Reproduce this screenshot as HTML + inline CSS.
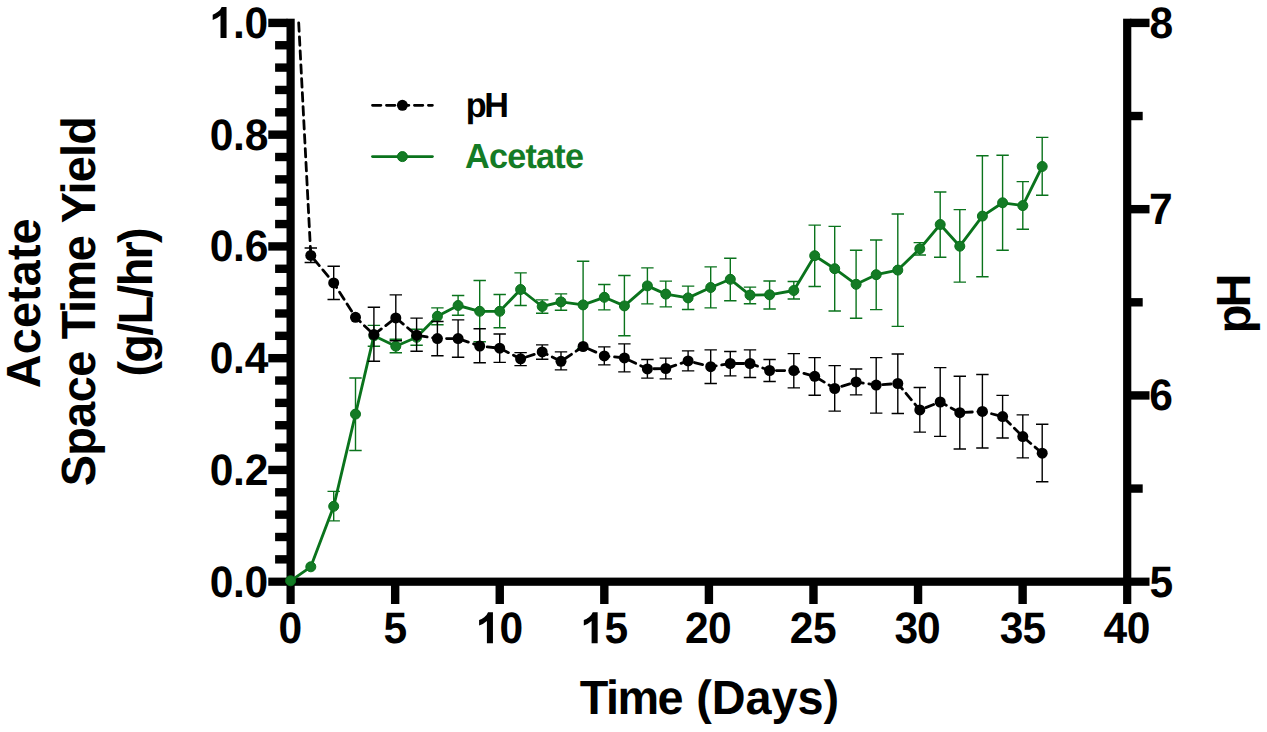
<!DOCTYPE html>
<html lang="en">
<head>
<meta charset="utf-8">
<title>Acetate Space Time Yield and pH vs Time</title>
<style>
html,body{margin:0;padding:0;background:#fff;}
body{width:1267px;height:732px;overflow:hidden;font-family:"Liberation Sans",sans-serif;}
svg{display:block;}
svg text{font-family:"Liberation Sans",sans-serif;font-weight:bold;text-rendering:geometricPrecision;}
</style>
</head>
<body>
<svg width="1267" height="732" viewBox="0 0 1267 732" role="img" aria-label="Acetate space time yield and pH versus time in days">
<rect x="0" y="0" width="1267" height="732" fill="#ffffff"/>
<g fill="#000" shape-rendering="geometricPrecision">
<rect x="286.5" y="18.7" width="8.2" height="585.3"/>
<rect x="1123.1" y="18.7" width="8.2" height="585.3"/>
<rect x="268.3" y="577.6" width="881.2" height="8.2"/>
<rect x="275.1" y="555.15" width="12.4" height="8.4"/>
<rect x="275.1" y="532.8" width="12.4" height="8.4"/>
<rect x="275.1" y="510.44" width="12.4" height="8.4"/>
<rect x="275.1" y="488.09" width="12.4" height="8.4"/>
<rect x="268.3" y="465.74" width="19.2" height="8.4"/>
<rect x="275.1" y="443.39" width="12.4" height="8.4"/>
<rect x="275.1" y="421.04" width="12.4" height="8.4"/>
<rect x="275.1" y="398.68" width="12.4" height="8.4"/>
<rect x="275.1" y="376.33" width="12.4" height="8.4"/>
<rect x="268.3" y="353.98" width="19.2" height="8.4"/>
<rect x="275.1" y="331.63" width="12.4" height="8.4"/>
<rect x="275.1" y="309.28" width="12.4" height="8.4"/>
<rect x="275.1" y="286.92" width="12.4" height="8.4"/>
<rect x="275.1" y="264.57" width="12.4" height="8.4"/>
<rect x="268.3" y="242.22" width="19.2" height="8.4"/>
<rect x="275.1" y="219.87" width="12.4" height="8.4"/>
<rect x="275.1" y="197.52" width="12.4" height="8.4"/>
<rect x="275.1" y="175.16" width="12.4" height="8.4"/>
<rect x="275.1" y="152.81" width="12.4" height="8.4"/>
<rect x="268.3" y="130.46" width="19.2" height="8.4"/>
<rect x="275.1" y="108.11" width="12.4" height="8.4"/>
<rect x="275.1" y="85.76" width="12.4" height="8.4"/>
<rect x="275.1" y="63.4" width="12.4" height="8.4"/>
<rect x="275.1" y="41.05" width="12.4" height="8.4"/>
<rect x="268.3" y="18.7" width="19.2" height="8.4"/>
<rect x="1130.3" y="484.37" width="12.4" height="8.4"/>
<rect x="1130.3" y="391.23" width="19.2" height="8.4"/>
<rect x="1130.3" y="298.1" width="12.4" height="8.4"/>
<rect x="1130.3" y="204.97" width="19.2" height="8.4"/>
<rect x="1130.3" y="111.83" width="12.4" height="8.4"/>
<rect x="1130.3" y="18.7" width="19.2" height="8.4"/>
<rect x="390.98" y="581.7" width="8.4" height="22.3"/>
<rect x="495.55" y="581.7" width="8.4" height="22.3"/>
<rect x="600.12" y="581.7" width="8.4" height="22.3"/>
<rect x="704.7" y="581.7" width="8.4" height="22.3"/>
<rect x="809.27" y="581.7" width="8.4" height="22.3"/>
<rect x="913.85" y="581.7" width="8.4" height="22.3"/>
<rect x="1018.42" y="581.7" width="8.4" height="22.3"/>
</g>
<g font-size="44" fill="#000">
<text transform="scale(0.9670 1)" x="216.87 240.96 252.86" y="596.7">0.0</text>
<text transform="scale(0.9670 1)" x="216.87 240.96 253.08" y="484.94">0.2</text>
<text transform="scale(0.9670 1)" x="216.87 240.96 253.01" y="373.18">0.4</text>
<text transform="scale(0.9670 1)" x="216.87 240.96 252.99" y="261.42">0.6</text>
<text transform="scale(0.9670 1)" x="216.87 240.96 253.21" y="149.66">0.8</text>
<path transform="translate(209.22 37.9) scale(0.02150 0.02106)" d="M806 0H525V-1059Q371 -915 162 -846V-1101Q272 -1137 401 -1237.5Q530 -1338 578 -1472H806Z"/><text transform="scale(0.9670 1)" x="240.96 252.86" y="37.9">.0</text>
<text transform="scale(0.9670 1)" x="1188.72" y="596.7">5</text>
<text transform="scale(0.9670 1)" x="1188.46" y="410.43">6</text>
<text transform="scale(0.9670 1)" x="1188.18" y="224.17">7</text>
<text transform="scale(0.9670 1)" x="1188.68" y="37.9">8</text>
<text transform="scale(0.9670 1)" x="287.92" y="643.2">0</text>
<text transform="scale(0.9670 1)" x="396.47" y="643.2">5</text>
<path transform="translate(475.62 643.2) scale(0.02150 0.02106)" d="M806 0H525V-1059Q371 -915 162 -846V-1101Q272 -1137 401 -1237.5Q530 -1338 578 -1472H806Z"/><text transform="scale(0.9670 1)" x="516.67" y="643.2">0</text>
<path transform="translate(580.32 643.2) scale(0.02150 0.02106)" d="M806 0H525V-1059Q371 -915 162 -846V-1101Q272 -1137 401 -1237.5Q530 -1338 578 -1472H806Z"/><text transform="scale(0.9670 1)" x="625.12" y="643.2">5</text>
<text transform="scale(0.9670 1)" x="708.51 732.28" y="643.2">20</text>
<text transform="scale(0.9670 1)" x="816.68 840.84" y="643.2">25</text>
<text transform="scale(0.9670 1)" x="925.05 948.31" y="643.2">30</text>
<text transform="scale(0.9670 1)" x="1033.84 1057.49" y="643.2">35</text>
<text transform="scale(0.9670 1)" x="1141.11 1165.17" y="643.2">40</text>
</g>
<text transform="translate(630.98 713.7) scale(0.9750 1)" font-size="48" letter-spacing="-1.570" text-anchor="middle" fill="#000">Time</text>
<text transform="translate(767.63 713.7) scale(0.9750 1)" font-size="48" letter-spacing="-0.023" text-anchor="middle" fill="#000">(Days)</text>
<text transform="translate(39.7 303.23) rotate(-90) scale(0.9750 1)" font-size="48" letter-spacing="0.126" text-anchor="middle" fill="#000">Acetate</text>
<text transform="translate(95.3 418.85) rotate(-90) scale(0.9750 1)" font-size="48" letter-spacing="-0.591" text-anchor="middle" fill="#000">Space</text>
<text transform="translate(95.3 288.02) rotate(-90) scale(0.9750 1)" font-size="48" letter-spacing="-1.547" text-anchor="middle" fill="#000">Time</text>
<text transform="translate(95.3 170.16) rotate(-90) scale(0.9750 1)" font-size="48" letter-spacing="-0.803" text-anchor="middle" fill="#000">Yield</text>
<text transform="translate(151.6 302.83) rotate(-90) scale(0.9750 1)" font-size="48" letter-spacing="-1.757" text-anchor="middle" fill="#000">(g/L/hr)</text>
<text transform="translate(1250 304.99) rotate(-90) scale(0.9750 1)" font-size="48" letter-spacing="-3.026" text-anchor="middle" fill="#000">pH</text>
<g id="acetate">
<g stroke="#0a731c" stroke-width="1.4" fill="none">
<path d="M333.7 491.4V520.9M327.5 491.4H339.9M327.5 520.9H339.9M355.5 378V450.5M349.3 378H361.7M349.3 450.5H361.7M373.9 325.4V346.2M367.7 325.4H380.1M367.7 346.2H380.1M395.8 339.2V352.8M389.6 339.2H402M389.6 352.8H402M416.6 329.2V345.2M410.4 329.2H422.8M410.4 345.2H422.8M437.4 307.9V324.8M431.2 307.9H443.6M431.2 324.8H443.6M458.1 295.5V315.3M451.9 295.5H464.3M451.9 315.3H464.3M479.7 280.5V341.8M473.5 280.5H485.9M473.5 341.8H485.9M499.7 294.5V327.8M493.5 294.5H505.9M493.5 327.8H505.9M520.6 272.9V305.5M514.4 272.9H526.8M514.4 305.5H526.8M542.2 299.9V313.3M536 299.9H548.4M536 313.3H548.4M561 293.9V310.3M554.8 293.9H567.2M554.8 310.3H567.2M583.1 261.3V348.4M576.9 261.3H589.3M576.9 348.4H589.3M604.3 284.5V309.9M598.1 284.5H610.5M598.1 309.9H610.5M624.4 275.5V335.8M618.2 275.5H630.6M618.2 335.8H630.6M647.4 267.9V303.9M641.2 267.9H653.6M641.2 303.9H653.6M665.8 281.1V306.9M659.6 281.1H672M659.6 306.9H672M688.1 286.1V309.5M681.9 286.1H694.3M681.9 309.5H694.3M710.7 266.9V307.9M704.5 266.9H716.9M704.5 307.9H716.9M730.3 258.2V300.7M724.1 258.2H736.5M724.1 300.7H736.5M750 287.1V303.7M743.8 287.1H756.2M743.8 303.7H756.2M769.6 281V309M763.4 281H775.8M763.4 309H775.8M793.8 281.5V299M787.6 281.5H800M787.6 299H800M814.7 225.1V286.5M808.5 225.1H820.9M808.5 286.5H820.9M834.7 226.4V311M828.5 226.4H840.9M828.5 311H840.9M856.1 250.3V318.2M849.9 250.3H862.3M849.9 318.2H862.3M876.2 240V309.6M870 240H882.4M870 309.6H882.4M897.8 214V326.4M891.6 214H904M891.6 326.4H904M919.8 242.6V255M913.6 242.6H926M913.6 255H926M940.2 192V257.2M934 192H946.4M934 257.2H946.4M959.8 209.6V282.1M953.6 209.6H966M953.6 282.1H966M982.4 155.7V276.7M976.2 155.7H988.6M976.2 276.7H988.6M1002.6 155.3V250.2M996.4 155.3H1008.8M996.4 250.2H1008.8M1022.8 181.6V229.2M1016.6 181.6H1029M1016.6 229.2H1029M1042.2 137.4V195.3M1036 137.4H1048.4M1036 195.3H1048.4"/>
</g>
<polyline points="290.6,580.8 310.8,566.8 333.7,506.3 355.5,414.1 373.9,335.8 395.8,346.2 416.6,337.3 437.4,316.3 458.1,305.5 479.7,311.3 499.7,311.3 520.6,289.5 542.2,306.5 561,301.9 583.1,304.9 604.3,297.3 624.4,305.9 647.4,285.9 665.8,294.1 688.1,297.9 710.7,287.5 730.3,279.3 750,295.1 769.6,294.8 793.8,290.5 814.7,255.7 834.7,268.7 856.1,284.3 876.2,274.7 897.8,270.1 919.8,248.8 940.2,224.5 959.8,246.2 982.4,216.1 1002.6,202.8 1022.8,205.6 1042.2,166.5" fill="none" stroke="#0a731c" stroke-width="2.85" stroke-linejoin="round"/>
<g fill="#147b25" stroke="#0a731c" stroke-width="1">
<circle cx="290.6" cy="580.8" r="5"/>
<circle cx="310.8" cy="566.8" r="5"/>
<circle cx="333.7" cy="506.3" r="5"/>
<circle cx="355.5" cy="414.1" r="5"/>
<circle cx="373.9" cy="335.8" r="5"/>
<circle cx="395.8" cy="346.2" r="5"/>
<circle cx="416.6" cy="337.3" r="5"/>
<circle cx="437.4" cy="316.3" r="5"/>
<circle cx="458.1" cy="305.5" r="5"/>
<circle cx="479.7" cy="311.3" r="5"/>
<circle cx="499.7" cy="311.3" r="5"/>
<circle cx="520.6" cy="289.5" r="5"/>
<circle cx="542.2" cy="306.5" r="5"/>
<circle cx="561" cy="301.9" r="5"/>
<circle cx="583.1" cy="304.9" r="5"/>
<circle cx="604.3" cy="297.3" r="5"/>
<circle cx="624.4" cy="305.9" r="5"/>
<circle cx="647.4" cy="285.9" r="5"/>
<circle cx="665.8" cy="294.1" r="5"/>
<circle cx="688.1" cy="297.9" r="5"/>
<circle cx="710.7" cy="287.5" r="5"/>
<circle cx="730.3" cy="279.3" r="5"/>
<circle cx="750" cy="295.1" r="5"/>
<circle cx="769.6" cy="294.8" r="5"/>
<circle cx="793.8" cy="290.5" r="5"/>
<circle cx="814.7" cy="255.7" r="5"/>
<circle cx="834.7" cy="268.7" r="5"/>
<circle cx="856.1" cy="284.3" r="5"/>
<circle cx="876.2" cy="274.7" r="5"/>
<circle cx="897.8" cy="270.1" r="5"/>
<circle cx="919.8" cy="248.8" r="5"/>
<circle cx="940.2" cy="224.5" r="5"/>
<circle cx="959.8" cy="246.2" r="5"/>
<circle cx="982.4" cy="216.1" r="5"/>
<circle cx="1002.6" cy="202.8" r="5"/>
<circle cx="1022.8" cy="205.6" r="5"/>
<circle cx="1042.2" cy="166.5" r="5"/>
</g></g>
<g id="ph">
<g stroke="#000" stroke-width="1.4" fill="none">
<path d="M310.8 248V262.5M304.6 248H317M304.6 262.5H317M333.7 266.3V299.5M327.5 266.3H339.9M327.5 299.5H339.9M373.9 307.3V361.2M367.7 307.3H380.1M367.7 361.2H380.1M395.8 294.9V340.8M389.6 294.9H402M389.6 340.8H402M416.6 318.1V351.2M410.4 318.1H422.8M410.4 351.2H422.8M437.4 321.5V355.8M431.2 321.5H443.6M431.2 355.8H443.6M458.1 319.9V357.2M451.9 319.9H464.3M451.9 357.2H464.3M479.7 328.8V362.8M473.5 328.8H485.9M473.5 362.8H485.9M499.7 334V362.4M493.5 334H505.9M493.5 362.4H505.9M520.6 352.6V365.6M514.4 352.6H526.8M514.4 365.6H526.8M542.2 344.9V359.3M536 344.9H548.4M536 359.3H548.4M561 351.9V369.9M554.8 351.9H567.2M554.8 369.9H567.2M604.3 346.9V364.9M598.1 346.9H610.5M598.1 364.9H610.5M624.4 343.9V371.9M618.2 343.9H630.6M618.2 371.9H630.6M647.4 359.5V378.1M641.2 359.5H653.6M641.2 378.1H653.6M665.8 358.1V378.9M659.6 358.1H672M659.6 378.9H672M688.1 350.9V370.9M681.9 350.9H694.3M681.9 370.9H694.3M710.7 349.9V383.5M704.5 349.9H716.9M704.5 383.5H716.9M730.3 351.5V375.9M724.1 351.5H736.5M724.1 375.9H736.5M750 349.9V377.5M743.8 349.9H756.2M743.8 377.5H756.2M769.6 359.5V381.5M763.4 359.5H775.8M763.4 381.5H775.8M793.8 353.6V387.9M787.6 353.6H800M787.6 387.9H800M814.7 357.6V395.3M808.5 357.6H820.9M808.5 395.3H820.9M834.7 365.6V411.1M828.5 365.6H840.9M828.5 411.1H840.9M856.1 369V394.9M849.9 369H862.3M849.9 394.9H862.3M876.2 357.6V413.1M870 357.6H882.4M870 413.1H882.4M897.8 354V413.5M891.6 354H904M891.6 413.5H904M919.8 387.5V432.1M913.6 387.5H926M913.6 432.1H926M940.2 367.6V436.4M934 367.6H946.4M934 436.4H946.4M959.8 376.3V449M953.6 376.3H966M953.6 449H966M982.4 374.5V448M976.2 374.5H988.6M976.2 448H988.6M1002.6 395.4V438M996.4 395.4H1008.8M996.4 438H1008.8M1022.8 414.9V457.9M1016.6 414.9H1029M1016.6 457.9H1029M1042.2 424.3V481.8M1036 424.3H1048.4M1036 481.8H1048.4"/>
</g>
<polyline points="298.7,22.9 310.8,255.4 333.7,282.9 355.5,317.3 373.9,334.6 395.8,317.9 416.6,335.2 437.4,338.6 458.1,338.6 479.7,346 499.7,348.2 520.6,358.8 542.2,351.9 561,361.3 583.1,346.5 604.3,355.9 624.4,357.9 647.4,368.9 665.8,368.5 688.1,360.9 710.7,366.7 730.3,363.5 750,363.5 769.6,370.5 793.8,370.6 814.7,376.3 834.7,388.5 856.1,381.9 876.2,385.1 897.8,383.5 919.8,409.9 940.2,402 959.8,412.7 982.4,411.4 1002.6,416.6 1022.8,436.6 1042.2,453.2" fill="none" stroke="#000" stroke-width="2.8" stroke-dasharray="8.4 5.58" stroke-dashoffset="0" stroke-linecap="round" stroke-linejoin="round"/>
<g fill="#000">
<circle cx="310.8" cy="255.4" r="5.5"/>
<circle cx="333.7" cy="282.9" r="5.5"/>
<circle cx="355.5" cy="317.3" r="5.5"/>
<circle cx="373.9" cy="334.6" r="5.5"/>
<circle cx="395.8" cy="317.9" r="5.5"/>
<circle cx="416.6" cy="335.2" r="5.5"/>
<circle cx="437.4" cy="338.6" r="5.5"/>
<circle cx="458.1" cy="338.6" r="5.5"/>
<circle cx="479.7" cy="346" r="5.5"/>
<circle cx="499.7" cy="348.2" r="5.5"/>
<circle cx="520.6" cy="358.8" r="5.5"/>
<circle cx="542.2" cy="351.9" r="5.5"/>
<circle cx="561" cy="361.3" r="5.5"/>
<circle cx="583.1" cy="346.5" r="5.5"/>
<circle cx="604.3" cy="355.9" r="5.5"/>
<circle cx="624.4" cy="357.9" r="5.5"/>
<circle cx="647.4" cy="368.9" r="5.5"/>
<circle cx="665.8" cy="368.5" r="5.5"/>
<circle cx="688.1" cy="360.9" r="5.5"/>
<circle cx="710.7" cy="366.7" r="5.5"/>
<circle cx="730.3" cy="363.5" r="5.5"/>
<circle cx="750" cy="363.5" r="5.5"/>
<circle cx="769.6" cy="370.5" r="5.5"/>
<circle cx="793.8" cy="370.6" r="5.5"/>
<circle cx="814.7" cy="376.3" r="5.5"/>
<circle cx="834.7" cy="388.5" r="5.5"/>
<circle cx="856.1" cy="381.9" r="5.5"/>
<circle cx="876.2" cy="385.1" r="5.5"/>
<circle cx="897.8" cy="383.5" r="5.5"/>
<circle cx="919.8" cy="409.9" r="5.5"/>
<circle cx="940.2" cy="402" r="5.5"/>
<circle cx="959.8" cy="412.7" r="5.5"/>
<circle cx="982.4" cy="411.4" r="5.5"/>
<circle cx="1002.6" cy="416.6" r="5.5"/>
<circle cx="1022.8" cy="436.6" r="5.5"/>
<circle cx="1042.2" cy="453.2" r="5.5"/>
</g></g>
<g id="legend">
<path d="M372.5 105.3H432.4" stroke="#000" stroke-width="2.8" stroke-dasharray="8.4 5.58" stroke-dashoffset="0" stroke-linecap="round" fill="none"/>
<circle cx="402.4" cy="105.3" r="5.5" fill="#000"/>
<path d="M372.5 156.6H432.4" stroke="#0a731c" stroke-width="2.85" fill="none" stroke-linecap="round"/>
<circle cx="402.4" cy="156.6" r="5" fill="#147b25" stroke="#0a731c" stroke-width="1"/>
</g>
<text transform="translate(465.81 116.9) scale(0.9830 1)" font-size="34.8" letter-spacing="-2.489" text-anchor="start" fill="#000">pH</text>
<text transform="translate(465.06 167.8) scale(0.9830 1)" font-size="34.8" letter-spacing="-0.788" text-anchor="start" fill="#147b25">Acetate</text>
</svg>
</body>
</html>
